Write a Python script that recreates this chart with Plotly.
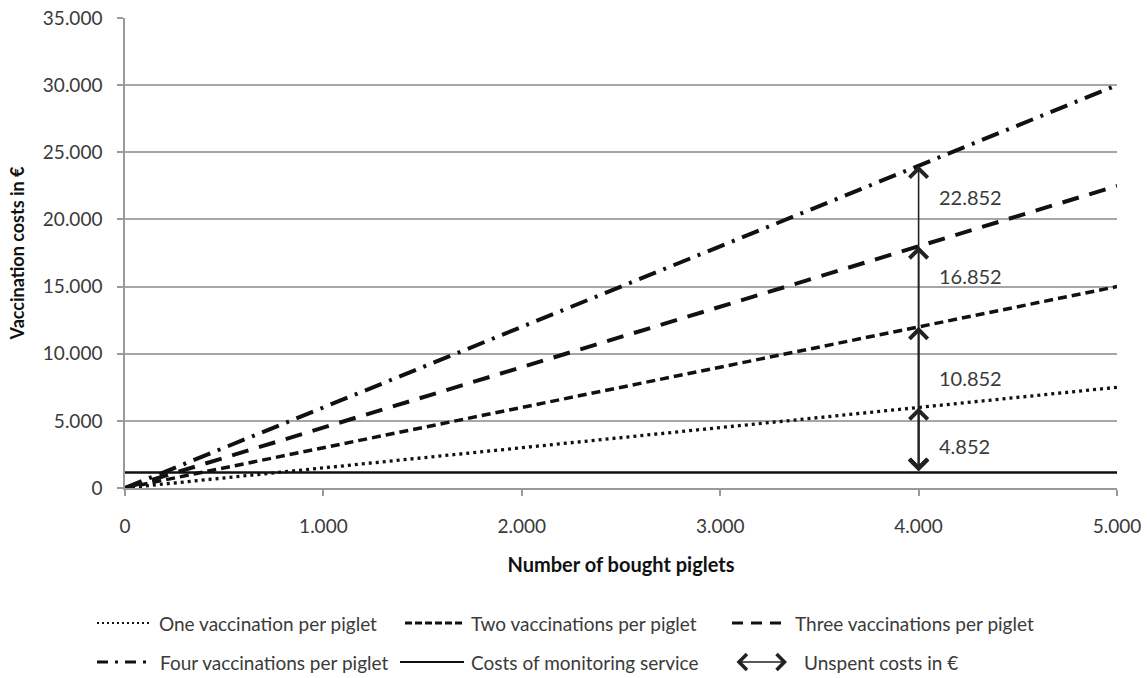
import plotly.graph_objects as go

# ---------------- data ----------------
piglets = [0, 1000, 2000, 3000, 4000, 5000]
one_vacc = [0, 1500, 3000, 4500, 6000, 7500]
two_vacc = [0, 3000, 6000, 9000, 12000, 15000]
three_vacc = [0, 4500, 9000, 13500, 18000, 22500]
four_vacc = [0, 6000, 12000, 18000, 24000, 30000]
monitoring = [1148, 1148, 1148, 1148, 1148, 1148]

series_names = [
    "One vaccination per piglet",
    "Two vaccinations per piglet",
    "Three vaccinations per piglet",
    "Four vaccinations per piglet",
    "Costs of monitoring service",
]
arrow_name = "Unspent costs in €"
x_ticks = [0, 1000, 2000, 3000, 4000, 5000]
y_ticks = [0, 5000, 10000, 15000, 20000, 25000, 30000, 35000]
arrow_at = 4000

# ---------------- styles ----------------
FONT = "Lato"
TXT = "#3a3a3a"
styles = [
    dict(color="#111111", width=3.3, dash="3px,4px"),
    dict(color="#111111", width=3.5, dash="9px,5px"),
    dict(color="#111111", width=4, dash="17px,11px"),
    dict(color="#111111", width=4, dash="18px,8px,3px,8px"),
    dict(color="#111111", width=2.5, dash="solid"),
]
legend_styles = [
    dict(color="#111111", width=2, dash="2px,3px"),
    dict(color="#111111", width=3, dash="7px,3px"),
    dict(color="#111111", width=3, dash="11px,8px"),
    dict(color="#111111", width=3, dash="11px,7px,3px,7px"),
    dict(color="#111111", width=2, dash="solid"),
]

W, H = 1147, 678
ML, MR, MT, MB = 125, 30, 18, 190
PW, PH = W - ML - MR, H - MT - MB


def px(xp):
    return (xp - ML) / PW


def py(yp):
    return (H - MB - yp) / PH


fig = go.Figure()
all_series = [one_vacc, two_vacc, three_vacc, four_vacc, monitoring]
for name, ys, st in zip(series_names, all_series, styles):
    fig.add_trace(go.Scatter(x=piglets, y=ys, mode="lines", name=name,
                             line=st, showlegend=False, hoverinfo="skip"))

# ---------------- unspent-cost arrows ----------------
idx = piglets.index(arrow_at)
label_dy = [-2870, -3810, -2210, -2330]
for ys, dy in zip([one_vacc, two_vacc, three_vacc, four_vacc], label_dy):
    top = ys[idx]
    bottom = monitoring[idx]
    fig.add_annotation(x=arrow_at, y=top, ax=arrow_at, ay=bottom,
                       xref="x", yref="y", axref="x", ayref="y",
                       text="", showarrow=True, arrowside="end+start",
                       arrowhead=4, startarrowhead=4, arrowsize=2.2,
                       startarrowsize=2.2, arrowwidth=1.6, arrowcolor="#222222")
    fig.add_annotation(x=arrow_at + 95, y=top + dy, xref="x", yref="y",
                       text=f"{top - bottom:,}".replace(",", "."),
                       showarrow=False, xanchor="left", yanchor="middle",
                       font=dict(family=FONT, size=20, color=TXT))

# ---------------- manual legend ----------------
legend_items = [
    (0, 97, 152, 157, 623),
    (1, 405, 464, 469, 623),
    (2, 732, 789, 793, 623),
    (3, 97, 150, 158, 662),
    (4, 400, 464, 469, 662),
]
for i, x0, x1, xt, yy in legend_items:
    fig.add_shape(type="line", xref="paper", yref="paper",
                  x0=px(x0), x1=px(x1), y0=py(yy), y1=py(yy), line=legend_styles[i])
    fig.add_annotation(xref="paper", yref="paper", x=px(xt), y=py(yy),
                       text=series_names[i], showarrow=False, xanchor="left",
                       yanchor="middle", font=dict(family=FONT, size=19, color=TXT))
# arrow legend entry
fig.add_annotation(xref="paper", yref="paper", x=px(787), y=py(662),
                   ax=-52, ay=0, axref="pixel", ayref="pixel",
                   text="", showarrow=True, arrowside="end+start",
                   arrowhead=4, startarrowhead=4, arrowsize=2.2, startarrowsize=2.2,
                   arrowwidth=1.4, arrowcolor="#222222")
fig.add_annotation(xref="paper", yref="paper", x=px(802), y=py(662),
                   text=arrow_name, showarrow=False, xanchor="left",
                   yanchor="middle", font=dict(family=FONT, size=19, color=TXT))

fig.update_layout(
    width=W, height=H,
    margin=dict(l=ML, r=MR, t=MT, b=MB, pad=0, autoexpand=False),
    plot_bgcolor="white", paper_bgcolor="white",
    separators=",.",
    font=dict(family=FONT, size=16, color=TXT),
    showlegend=False,
)
fig.update_xaxes(
    range=[0, 5000], tickvals=x_ticks, tickformat=",d", automargin=False,
    showgrid=False, zeroline=False,
    showline=True, linecolor="#9a9a9a", linewidth=1.5,
    ticks="outside", ticklen=6, tickcolor="#9a9a9a", tickwidth=1.5,
    ticklabelstandoff=14,
    tickfont=dict(family=FONT, size=19, color=TXT),
    title=dict(text="<b>Number of bought piglets</b>", standoff=22,
               font=dict(family=FONT, size=20, color="#111111")),
)
fig.update_yaxes(
    range=[0, 35000], tickvals=y_ticks, tickformat=",d", automargin=False,
    showgrid=True, gridcolor="#a6a6a6", gridwidth=1.5, zeroline=False,
    showline=True, linecolor="#9a9a9a", linewidth=1.5,
    ticks="outside", ticklen=6, tickcolor="#9a9a9a", tickwidth=1.5,
    ticklabelstandoff=11,
    tickfont=dict(family=FONT, size=19, color=TXT),
    title=dict(text="<b>Vaccination costs in €</b>", standoff=14,
               font=dict(family=FONT, size=18, color="#111111")),
)

fig.write_html("out.html")
